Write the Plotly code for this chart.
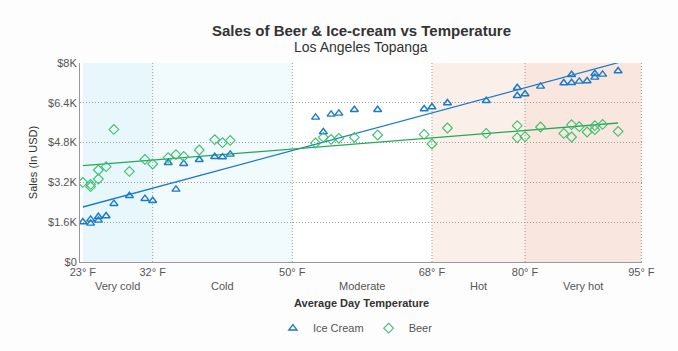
import plotly.graph_objects as go

# ---------------- data ----------------
ice_temp = [23, 24, 24, 25, 25, 26, 27, 29, 31, 32, 34, 35, 36, 38, 40, 41, 42,
            53, 54, 55, 56, 58, 61, 67, 68, 70, 75, 79, 79, 80, 82, 85, 86, 86,
            87, 88, 89, 89, 90, 92]
ice_sales = [1608, 1713, 1552, 1821, 1672, 1849, 2344, 2665, 2545, 2464, 3992, 2919,
             3952, 4112, 4233, 4220, 4326,
             5813, 5226, 5934, 5974, 6122, 6122, 6150, 6231, 6392, 6484, 7007, 6685,
             6753, 7059, 7196, 7529, 7208, 7260, 7276, 7570, 7421, 7542, 7678]

beer_temp = [23, 24, 24, 25, 25, 26, 27, 29, 31, 32, 34, 35, 36, 38, 40, 41, 42,
             53, 54, 55, 56, 58, 61, 67, 68, 70, 75, 79, 79, 80, 82, 85, 86, 86,
             87, 88, 89, 89, 90, 92]
beer_sales = [3200, 3120, 3027, 3336, 3698, 3831, 5331, 3642, 4125, 3940, 4193, 4313,
              4246, 4502, 4916, 4796, 4889,
              4784, 5010, 4929, 4970, 5010, 5105, 5130, 4744, 5387, 5170, 5479, 4997,
              5037, 5427, 5170, 5520, 5025, 5439, 5226, 5479, 5318, 5532, 5250]

trend_temp = [23, 92]
ice_trend = [2211, 8012]
beer_trend = [3871, 5587]

x_ticks = [23, 32, 50, 68, 80, 95]
x_tick_labels = ["23° F", "32° F", "50° F", "68° F", "80° F", "95° F"]
y_ticks = [0, 1600, 3200, 4800, 6400, 8000]
y_tick_labels = ["$0", "$1.6K", "$3.2K", "$4.8K", "$6.4K", "$8K"]

zone_names = ["Very cold", "Cold", "Moderate", "Hot", "Very hot"]
zone_start = [23, 32, 50, 68, 80]
zone_end = [32, 50, 68, 80, 95]
zone_colors = ["#e8f7fc", "#f1fafd", "rgba(0,0,0,0)", "#fbefea", "#f9e6df"]

FONT = "Arial, Liberation Sans, sans-serif"
BLUE = "#1d7ac6"
GREEN = "#25a957"
GRID = "#9a9a9a"
DOTS = "1px,2px"

fig = go.Figure()

fig.add_trace(go.Scatter(
    x=trend_temp, y=ice_trend, mode="lines", showlegend=False,
    line=dict(color=BLUE, width=1.3), hoverinfo="skip"))
fig.add_trace(go.Scatter(
    x=trend_temp, y=beer_trend, mode="lines", showlegend=False,
    line=dict(color=GREEN, width=1.3), hoverinfo="skip"))

fig.add_trace(go.Scatter(
    x=ice_temp, y=ice_sales, mode="markers", name="Ice Cream",
    marker=dict(symbol="triangle-up-open", size=7, color=BLUE,
                line=dict(width=1.4, color=BLUE))))
fig.add_trace(go.Scatter(
    x=beer_temp, y=beer_sales, mode="markers", name="Beer",
    marker=dict(symbol="diamond-open", size=7.5, color="#3cbf6c",
                line=dict(width=1.1, color="#3cbf6c"))))

shapes = []
for s, e, c in zip(zone_start, zone_end, zone_colors):
    shapes.append(dict(type="rect", xref="x", yref="paper", x0=s, x1=e, y0=0, y1=1,
                       fillcolor=c, line=dict(width=0), layer="below"))
for v in x_ticks[1:]:
    shapes.append(dict(type="line", xref="x", yref="paper", x0=v, x1=v, y0=0, y1=1,
                       line=dict(color=GRID, width=1, dash=DOTS), layer="below"))

annotations = [
    dict(text="<b>Sales of Beer &amp; Ice-cream vs Temperature</b>", xref="paper",
         yref="paper", x=0.5, y=1.0, yshift=33, yanchor="middle", showarrow=False,
         font=dict(family=FONT, size=15, color="#333333")),
    dict(text="Los Angeles Topanga", xref="paper", yref="paper", x=0.5, y=1.0,
         yshift=16, yanchor="middle", showarrow=False,
         font=dict(family=FONT, size=14, color="#333333")),
    dict(text="<b>Average Day Temperature</b>", xref="paper", yref="paper", x=0.5, y=0,
         yshift=-41, yanchor="middle", showarrow=False,
         font=dict(family=FONT, size=11, color="#333333")),
]
for name, s, e in zip(zone_names, zone_start, zone_end):
    annotations.append(dict(text=name, xref="x", yref="paper", x=(s + e) / 2, y=0,
                            yshift=-24, yanchor="middle", showarrow=False,
                            font=dict(family=FONT, size=11, color="#555555")))

fig.update_layout(
    width=678, height=351,
    margin=dict(l=79.5, r=35.5, t=63, b=89, autoexpand=False),
    paper_bgcolor="#fdfdfd", plot_bgcolor="white",
    font=dict(family=FONT, size=11, color="#555555"),
    shapes=shapes, annotations=annotations,
    legend=dict(orientation="h", x=0.49, xanchor="center", yref="container",
                y=0.065, yanchor="middle", font=dict(family=FONT, size=11, color="#555555"),
                itemwidth=30),
    xaxis=dict(range=[22.63, 95.08], tickvals=x_ticks, ticktext=x_tick_labels,
               showgrid=False, zeroline=False, showline=True, linecolor="#999999",
               linewidth=1, ticks="", automargin=False,
               tickfont=dict(size=11, color="#555555")),
    yaxis=dict(range=[0, 8000], tickvals=y_ticks, ticktext=y_tick_labels,
               showgrid=True, gridcolor=GRID, griddash=DOTS, gridwidth=1,
               zeroline=False, showline=True, linecolor="#999999", linewidth=1,
               ticks="", automargin=False, tickfont=dict(size=11, color="#555555"),
               title=dict(text="Sales (In USD)", standoff=8,
                          font=dict(size=11, color="#333333"))),
)

fig.write_html("out.html")
